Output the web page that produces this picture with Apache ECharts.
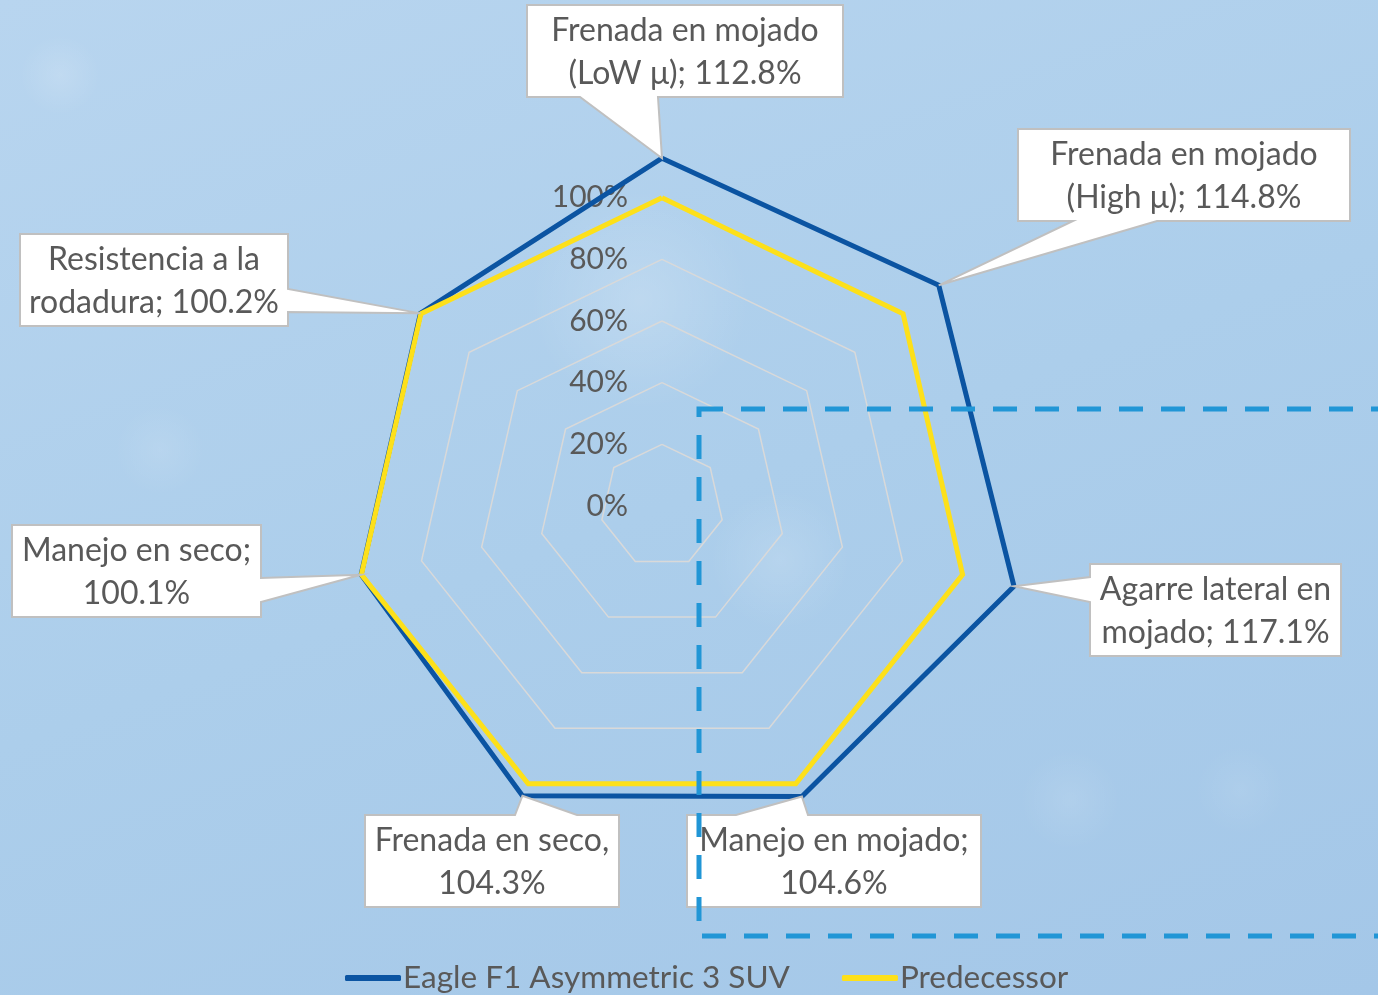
<!DOCTYPE html>
<html>
<head>
<meta charset="utf-8">
<script src="https://cdn.jsdelivr.net/npm/echarts@6/dist/echarts.min.js"></script>
<style>
html, body { margin: 0; padding: 0; }
#chart {
  width: 1378px; height: 995px;
  background:
    radial-gradient(circle at 640px 300px, rgba(255,255,255,0.18) 0px, rgba(255,255,255,0) 110px),
    radial-gradient(circle at 60px 75px, rgba(255,255,255,0.14) 0px, rgba(255,255,255,0) 40px),
    radial-gradient(circle at 160px 450px, rgba(255,255,255,0.10) 0px, rgba(255,255,255,0) 45px),
    radial-gradient(circle at 1070px 800px, rgba(255,255,255,0.10) 0px, rgba(255,255,255,0) 50px),
    radial-gradient(circle at 1240px 790px, rgba(255,255,255,0.08) 0px, rgba(255,255,255,0) 45px),
    radial-gradient(circle at 780px 560px, rgba(255,255,255,0.14) 0px, rgba(255,255,255,0) 70px),
    linear-gradient(160deg, #b8d5ef 0%, #acceeb 50%, #a4c7e8 100%);
}
</style>
</head>
<body>
<div id="chart"></div>
<script>
// ---- data (clockwise from the top) ----
const categories = [
  'Frenada en mojado\n(LoW μ)',
  'Frenada en mojado\n(High μ)',
  'Agarre lateral en\nmojado',
  'Manejo en mojado',
  'Frenada en seco',
  'Manejo en seco',
  'Resistencia a la\nrodadura'
];
const labelSeparators = ['; ', '; ', '; ', ';\n', ',\n', ';\n', '; '];
const eagleValues = [112.8, 114.8, 117.1, 104.6, 104.3, 100.1, 100.2];
const predecessorValues = [100, 100, 100, 100, 100, 100, 100];
const seriesNames = ['Eagle F1 Asymmetric 3 SUV', 'Predecessor'];
const tickValues = [0, 20, 40, 60, 80, 100];
const axisMax = 120;

// ---- layout / style ----
const TEXT = '#595959';
const FONT = 'Lato';
const BLUE = '#0b54a2';
const YELLOW = '#fde01a';

const N = categories.length;
// ECharts lays radar indicators out counter-clockwise: map position -> category index
const ecOrder = categories.map((_, k) => (k === 0 ? 0 : N - k));

const indicator = ecOrder.map((ci, k) => {
  const o = { name: categories[ci].replace('\n', ' '), min: 0, max: axisMax };
  if (k !== 0) o.axisLabel = { show: false };
  return o;
});

const chart = echarts.init(document.getElementById('chart'), null, { renderer: 'canvas' });

chart.setOption({
  backgroundColor: 'transparent',
  animation: false,
  legend: {
    data: seriesNames,
    left: 345, top: 960, padding: 0,
    icon: 'roundRect', itemWidth: 56, itemHeight: 6, itemGap: 52,
    textStyle: { fontFamily: FONT, fontSize: 31.5, color: TEXT, lineHeight: 36, padding: [0, 0, 0, -3] }
  },
  radar: {
    center: [662, 506],
    radius: 370,
    startAngle: 90,
    splitNumber: 6,
    shape: 'polygon',
    indicator: indicator,
    axisName: { show: false },
    axisLine: { show: false },
    axisTick: { show: false },
    splitArea: { show: false },
    splitLine: {
      lineStyle: {
        color: ['transparent', '#d9d9d9', '#d9d9d9', '#d9d9d9', '#d9d9d9', '#d9d9d9', 'transparent'],
        width: 1.5
      }
    },
    axisLabel: {
      show: true, margin: 34, color: TEXT, fontSize: 30, fontFamily: FONT,
      formatter: v => (tickValues.indexOf(v) >= 0 ? v + '%' : '')
    }
  },
  series: [{
    type: 'radar',
    symbol: 'none',
    z: 3,
    data: [
      { name: seriesNames[0], value: ecOrder.map(ci => eagleValues[ci]),
        lineStyle: { color: BLUE, width: 5, join: 'miter' }, itemStyle: { color: BLUE } },
      { name: seriesNames[1], value: ecOrder.map(ci => predecessorValues[ci]),
        lineStyle: { color: YELLOW, width: 5, join: 'miter' }, itemStyle: { color: YELLOW } }
    ]
  }]
});

// ---- callout boxes (layout) ----
const calloutBoxes = [
  { x: 527,  y: 5,   w: 316, h: 92, side: 'bottom', a: 580,  b: 658 },
  { x: 1018, y: 129, w: 332, h: 92, side: 'bottom', a: 1073, b: 1157 },
  { x: 1090, y: 564, w: 251, h: 92, side: 'left',   a: 577,  b: 602 },
  { x: 687,  y: 815, w: 294, h: 92, side: 'top',    a: 736,  b: 808 },
  { x: 365,  y: 815, w: 254, h: 92, side: 'top',    a: 515,  b: 577 },
  { x: 12,   y: 525, w: 249, h: 92, side: 'right',  a: 578,  b: 602 },
  { x: 20,   y: 234, w: 268, h: 92, side: 'right',  a: 289,  b: 312 }
];

function toPoint(value, ci) {
  const k = ecOrder.indexOf(ci);
  try {
    const cs = chart.getModel().getComponent('radar', 0).coordinateSystem;
    return cs.dataToPoint(value, k);
  } catch (e) {
    const ang = Math.PI / 2 + k * 2 * Math.PI / N;
    const r = value / axisMax * 370;
    return [662 + r * Math.cos(ang), 506 - r * Math.sin(ang)];
  }
}

function calloutPoints(bx, tip) {
  const { x, y, w, h, side, a, b } = bx;
  const R = x + w, B = y + h;
  if (side === 'bottom') return [[x, y], [R, y], [R, B], [b, B], tip, [a, B], [x, B]];
  if (side === 'top') return [[x, y], [a, y], tip, [b, y], [R, y], [R, B], [x, B]];
  if (side === 'left') return [[x, y], [R, y], [R, B], [x, B], [x, b], tip, [x, a]];
  return [[x, y], [R, y], [R, a], tip, [R, b], [R, B], [x, B]];
}

const graphics = [];
categories.forEach((cat, ci) => {
  const bx = calloutBoxes[ci];
  const tip = toPoint(eagleValues[ci], ci);
  graphics.push({
    type: 'polygon', z: 100,
    shape: { points: calloutPoints(bx, tip) },
    style: { fill: '#ffffff', stroke: '#c0c0c0', lineWidth: 2 }
  });
  graphics.push({
    type: 'text', z: 101,
    x: bx.x + bx.w / 2, y: bx.y + bx.h / 2 + 1,
    style: {
      text: cat + labelSeparators[ci] + eagleValues[ci].toFixed(1) + '%',
      fontFamily: FONT, fontSize: 32, fill: TEXT,
      align: 'center', verticalAlign: 'middle', lineHeight: 43
    }
  });
});
graphics.push({
  type: 'rect', z: 120,
  shape: { x: 699, y: 409, width: 800, height: 527 },
  style: { fill: null, stroke: '#2196d6', lineWidth: 5, lineDash: [24, 18] }
});

chart.setOption({ graphic: graphics });
</script>
</body>
</html>
